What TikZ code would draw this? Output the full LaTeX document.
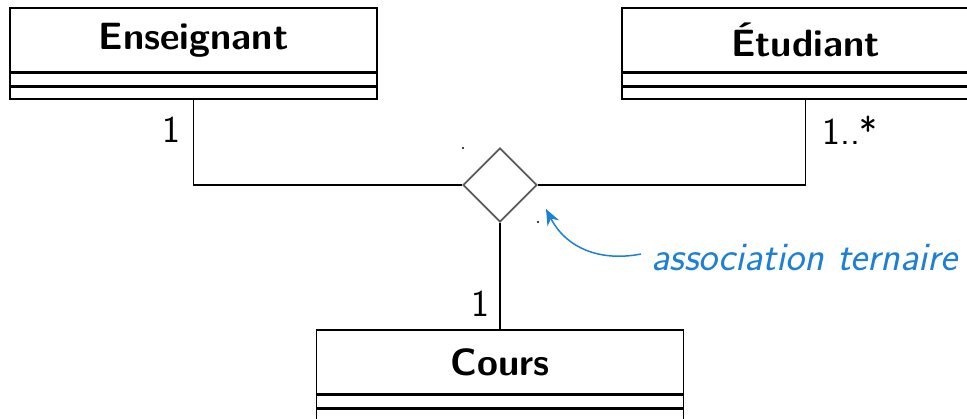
\documentclass[tikz,border=0pt]{standalone}
\usetikzlibrary{shapes.geometric,arrows.meta}
\definecolor{annot}{RGB}{30,128,212}
\definecolor{diagray}{RGB}{90,90,90}
\tikzset{
  namebox/.style={draw, line width=1.4pt, minimum width=367pt, minimum height=64pt, inner sep=0pt,
    font=\sffamily\bfseries\fontsize{38}{44}\selectfont},
  compbox/.style={draw, line width=1.4pt, minimum width=367pt, minimum height=12pt, inner sep=0pt},
  assoc/.style={draw=diagray, line width=1.7pt, shape=diamond, minimum width=74pt, minimum height=74pt, inner sep=0pt, fill=white},
  link/.style={line width=1.4pt},
  mult/.style={font=\sffamily\fontsize{38}{44}\selectfont, inner sep=0pt},
  note/.style={font=\sffamily\itshape\fontsize{40.5}{46}\selectfont, text=annot, inner sep=0pt, anchor=west},
  notearrow/.style={draw=annot, line width=1.5pt, -{Stealth[length=16pt,width=13pt]}},
  dotmark/.style={circle, fill=black, inner sep=0pt, minimum size=2.2pt}
}
\begin{document}
\begin{tikzpicture}[x=1pt,y=-1pt]
\clip (0,0) rectangle (967,418);
\fill[white] (0,0) rectangle (967,418);
% classes
\node[namebox] (ens) at (193.5,40) {Enseignant};
\node[compbox, anchor=north] (ensA) at (ens.south) {};
\node[compbox, anchor=north] (ensB) at (ensA.south) {};
\node[namebox] (etu) at (805.5,40) {Étudiant};
\node[compbox, anchor=north] (etuA) at (etu.south) {};
\node[compbox, anchor=north] (etuB) at (etuA.south) {};
\node[namebox] (cours) at (500,362) {Cours};
\node[compbox, anchor=north] (coursA) at (cours.south) {};
\node[compbox, anchor=north] (coursB) at (coursA.south) {};
% association
\node[assoc] (dia) at (500,185) {};
\draw[link] (ensB.south) |- (dia.west);
\draw[link] (etuB.south) |- (dia.east);
\draw[link] (dia.south) -- (cours.north);
% multiplicities
\node[mult] (m1) at (171,130) {1};
\node[mult] (m2) at (850,130) {1..*};
\node[mult] (m3) at (480,304) {1};
% small dots
\node[dotmark] (d1) at (463,148) {};
\node[dotmark] (d2) at (538,222) {};
% annotation
\node[note] (lab) at (651,258) {association ternaire};
\coordinate (tip) at (546,209);
\draw[notearrow] ([xshift=-10pt,yshift=4pt]lab.west) .. controls (600,262) and (566,248) .. (tip);
\end{tikzpicture}
\end{document}
